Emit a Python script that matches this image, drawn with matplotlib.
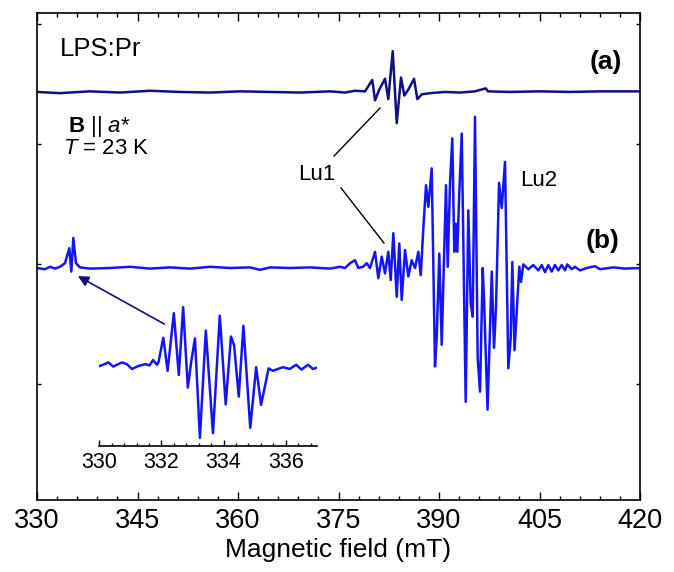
"""
EPR spectra of LPS:Pr, B || a*, T = 23 K, with an inset of the low-field line.
"""

import matplotlib
matplotlib.use('Agg')
import matplotlib.pyplot as plt
from matplotlib.ticker import MultipleLocator, AutoMinorLocator, NullFormatter

plt.rcParams['font.family'] = ['Liberation Sans', 'DejaVu Sans']
plt.rcParams['mathtext.fontset'] = 'custom'
plt.rcParams['mathtext.rm'] = 'Liberation Sans'
plt.rcParams['mathtext.it'] = 'Liberation Sans:italic'
plt.rcParams['mathtext.bf'] = 'Liberation Sans:bold'

# spectrum (a): field (mT) and signal (a.u., relative to its own baseline)
field_a = [330.00, 333.43, 337.91, 342.39, 346.87, 351.34, 355.82, 360.30, 364.78,
           369.25, 373.73, 375.97, 377.46, 378.96, 380.04, 380.45, 381.09, 381.94,
           382.43, 383.09, 383.69, 384.33, 384.82, 385.42, 386.27, 386.76, 387.42,
           388.66, 390.90, 393.13, 395.37, 396.97, 397.31, 400.60, 405.07, 409.55,
           414.03, 420.00]
signal_a = [0, -1, 0.5, -0.5, 1, 0, -0.5, 0.5, 0,
            -0.5, 0.5, -0.5, 1, 0.5, 10, -7, 2, 11,
            -6, 34, -26, 12, -3, 2, 11, -6, -2,
            -1, 0, -0.5, 0.5, 3, 0.5, 0, 0.5, 0,
            0.5, 0.5]

# spectrum (b)
field_b = [330.00, 331.19, 331.94, 332.69, 333.43, 334.18, 334.82, 335.12, 335.42,
           335.82, 336.42, 337.91, 340.90, 343.88, 346.87, 349.85, 352.84, 355.82,
           358.81, 361.79, 363.28, 364.78, 367.76, 370.75, 373.73,
           375.22, 375.97, 376.72, 377.46, 377.96, 378.66, 379.21, 379.70, 380.45,
           380.94, 381.45, 381.94, 382.43, 382.79, 383.18, 383.69, 384.07, 384.43,
           384.93, 385.42, 385.92, 386.42, 386.91, 387.27, 387.66, 388.06, 388.40,
           388.91, 389.40, 389.66, 390.04, 390.40, 391.04, 391.30, 391.64, 391.98,
           392.28, 392.49, 392.73, 393.03, 393.39, 393.98, 394.37, 394.73, 395.03,
           395.37, 395.77, 396.12, 396.52, 396.72, 397.24, 397.87, 398.21, 398.51,
           398.96, 399.36, 399.85, 400.34, 400.70, 400.94, 401.27, 401.98, 402.24,
           402.58, 403.33, 404.07, 404.82, 405.33, 405.82, 406.31, 406.82, 407.31,
           407.81, 408.31, 408.81, 409.15, 409.81, 410.30, 411.04, 412.04, 413.28,
           414.03, 415.97, 417.76, 420.00]
signal_b = [0, -1, 1, -0.5, 1, 4, 16.5, -3, 25,
            4, 0.5, -0.5, 0, 1, -0.5, 0.5, -0.5, 1,
            0, 0.5, -1.5, 0.5, 0, 0.5, -0.5,
            1, 0, 4, 6.5, 0, 1, 4, 0, 13.5,
            -8.5, 9.5, -4.5, 13.5, -10, 29, -24, 20.5, -26.5,
            15, -7, 6.5, 0, 13.5, -6, 33, 69, 51,
            83, -82, -57, 12, -64, 69, 1, 70.5, 108,
            13.5, 37, 13.5, 63.5, 112, -111.5, 48, -29.5, -40.5,
            126, -75, -103, 0, -26.5, -118, -3, -66.5, -32,
            71, 50, 88.5, -83.5, -58.5, 5, -68.5, 1, -11.5,
            3, -1, 2.5, -2, 2.5, -3.5, 2.5, -3, 2.5,
            -2, 2.5, -2, 3, -1, 1, -2, 0, 1.5,
            -1, 0.5, -0.5, 0]

# inset: low-field line of (b), expanded
field_in = [330.00, 330.13, 330.29, 330.45, 330.73, 330.89, 331.05, 331.26, 331.48,
            331.62, 331.73, 331.86, 331.91, 332.06, 332.20, 332.40, 332.56, 332.70,
            332.85, 332.96, 333.08, 333.24, 333.43, 333.66, 333.88, 334.07, 334.24,
            334.34, 334.49, 334.64, 334.86, 335.05, 335.21, 335.45, 335.59, 335.91,
            336.13, 336.34, 336.51, 336.72, 336.88, 337.05]
signal_in = [0, 1, 3, -0.5, 3, 1.5, -2.5, 0, 1.5,
             0.5, 5, 1, 3.5, 23.5, -4, 44, -7.5, 49,
             -18, 3.5, 23, -60, 29.5, -56, 42, -32, 24.5,
             17.5, -25.5, 33.5, -51.5, -1, -32.5, -2, -4, -1,
             -2.5, 1, -3, 1, -2.5, -1]

main_ticks = [330, 345, 360, 375, 390, 405, 420]
inset_ticks = [330, 332, 334, 336]

offset_a = 146.7
color_a = '#10107e'
color_b = '#1414f5'

fig = plt.figure(figsize=(6.74, 5.72), dpi=100)
ax = fig.add_axes([0.0549, 0.1259, 0.8947, 0.8514])

ax.plot(field_a, [s + offset_a for s in signal_a], color=color_a, lw=1.8,
        solid_joinstyle='round')
ax.plot(field_b, signal_b, color=color_b, lw=1.8, solid_joinstyle='round')

ax.set_xlim(330, 420)
ax.set_ylim(-193.3, 212.5)
ax.set_xticks(main_ticks)
ax.xaxis.set_minor_locator(MultipleLocator(3))
ax.set_yticks([-97, 3, 103, 203])
ax.yaxis.set_major_formatter(NullFormatter())
ax.tick_params(axis='x', which='major', direction='in', length=6, width=1.0,
               top=True, labelsize=19.5, pad=6)
ax.tick_params(axis='x', which='minor', direction='in', length=3, width=1.0, top=True)
ax.tick_params(axis='y', which='major', direction='in', length=3, width=1.0, right=True)
for sp in ax.spines.values():
    sp.set_linewidth(1.2)
ax.set_xlabel('Magnetic field (mT)', fontsize=19, labelpad=3)

# labels
ax.text(333.43, 182.5, 'LPS:Pr', fontsize=18.5, ha='left', va='center')
ax.text(417.3, 171.7, '(a)', fontsize=19, fontweight='bold', ha='right', va='center')
ax.text(417.0, 22.5, '(b)', fontsize=19, fontweight='bold', ha='right', va='center')
ax.text(334.6, 117.5, r'$\mathbf{B}$ || $\mathit{a}$*', fontsize=16, ha='left', va='center')
ax.text(333.9, 99.2, r'$\mathit{T}$ = 23 K', fontsize=16, ha='left', va='center')
ax.text(371.7, 77.5, 'Lu1', fontsize=16, ha='center', va='center')
ax.text(402.1, 73.3, 'Lu2', fontsize=16, ha='left', va='center')

# pointer lines for Lu1
ax.plot([374.33, 381.19], [93.3, 133.3], color='black', lw=1.0)
ax.plot([375.37, 381.79], [66.7, 20.8], color='black', lw=1.0)

# arrow from the inset to the low-field line
ax.annotate('', xy=(336.1, -6.7), xytext=(349.0, -46.7),
            arrowprops=dict(arrowstyle='-|>', color=color_a, lw=1.2,
                            mutation_scale=16, shrinkA=0, shrinkB=0))

# inset
axin = fig.add_axes([0.1473, 0.2203, 0.3226, 0.2552])
axin.patch.set_alpha(0)
axin.plot(field_in, signal_in, color=color_b, lw=1.8, solid_joinstyle='round')
axin.set_xlim(330, 337)
axin.set_ylim(-66.7, 55)
axin.set_xticks(inset_ticks)
axin.xaxis.set_minor_locator(AutoMinorLocator(5))
axin.set_yticks([])
for side in ['left', 'right', 'top']:
    axin.spines[side].set_visible(False)
axin.spines['bottom'].set_linewidth(1.2)
axin.tick_params(axis='x', which='major', direction='in', length=4.5, width=1.0,
                 labelsize=15.5, pad=4)
axin.tick_params(axis='x', which='minor', direction='in', length=2.5, width=1.0)

fig.savefig('out.png', dpi=100)
